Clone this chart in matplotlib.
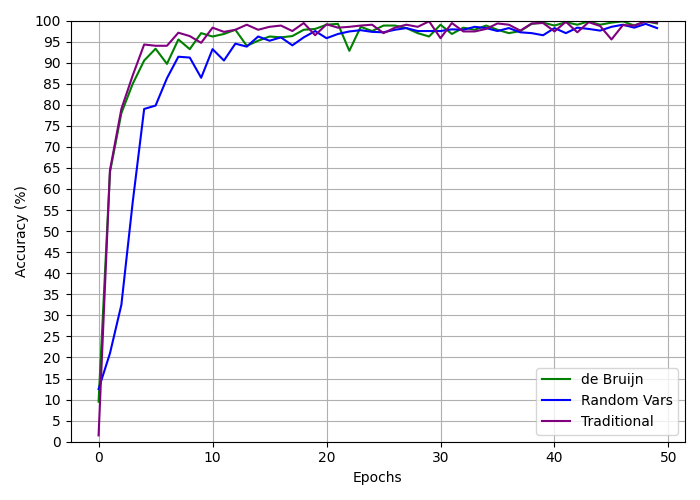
import matplotlib
matplotlib.use("Agg")
import matplotlib.pyplot as plt
import numpy as np

epochs = list(range(50))
de_bruijn = [9.5, 64, 78, 85, 90.5, 93.3, 89.7, 95.5, 93.2, 97,
             96.2, 96.8, 97.8, 94, 95.2, 96.2, 96, 96.3, 97.8, 98,
             99, 99.2, 92.8, 98.5, 97.5, 98.8, 98.8, 98.2, 97, 96.2,
             99, 96.8, 98.3, 97.8, 98.8, 97.8, 97, 97.5, 99.2, 99.5,
             98.8, 99.6, 99, 99.8, 99, 99.5, 99.8, 98.8, 99.8, 99.3]
random_vars = [12.5, 21, 32.5, 57, 79, 79.8, 86.3, 91.4, 91.2, 86.4,
               93.2, 90.5, 94.5, 93.8, 96.2, 95.2, 96, 94.1, 96, 97.5,
               95.8, 96.8, 97.4, 97.7, 97.3, 97.2, 97.8, 98.2, 97.5, 97.5,
               97.5, 97.9, 97.8, 98.5, 98.2, 97.5, 98.2, 97.2, 97, 96.5,
               98.2, 97, 98.3, 98, 97.6, 98.5, 99, 98.3, 99.2, 98.2]
traditional = [1.5, 64.5, 79, 87, 94.3, 94, 94, 97.1, 96.3, 94.7,
               98.3, 97.3, 97.8, 99, 97.8, 98.5, 98.8, 97.5, 99.4, 96.5,
               99.1, 98.3, 98.5, 98.8, 99, 97, 98.3, 99, 98.5, 99.8,
               95.8, 99.4, 97.4, 97.4, 98, 99.3, 99, 97.6, 99.3, 99.4,
               97.4, 99.7, 97.2, 99.6, 98.7, 95.5, 98.9, 98.8, 99.8, 99.5]

fig, ax = plt.subplots(figsize=(7, 5), dpi=100)
ax.plot(epochs, de_bruijn, color="green", label="de Bruijn")
ax.plot(epochs, random_vars, color="blue", label="Random Vars")
ax.plot(epochs, traditional, color="purple", label="Traditional")
ax.set_xlabel("Epochs")
ax.set_ylabel("Accuracy (%)")
ax.set_ylim(0, 100)
ax.set_yticks(np.arange(0, 101, 5))
ax.grid(True)
ax.legend(loc="lower right")
fig.tight_layout()
fig.savefig("out.png")
